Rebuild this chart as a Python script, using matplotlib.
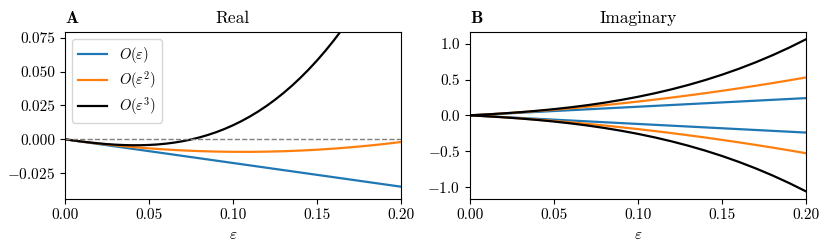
import matplotlib
matplotlib.use("Agg")
import matplotlib.pyplot as plt
import matplotlib.ticker as mticker

plt.rcParams['font.family'] = 'serif'
plt.rcParams['font.serif'] = ['cmr10', 'DejaVu Serif']
plt.rcParams['mathtext.fontset'] = 'cm'
plt.rcParams['axes.formatter.use_mathtext'] = True
plt.rcParams['axes.unicode_minus'] = True

eps = [0.00, 0.01, 0.02, 0.03, 0.04, 0.05, 0.06, 0.07, 0.08, 0.09, 0.10,
       0.11, 0.12, 0.13, 0.14, 0.15, 0.16, 0.17, 0.18, 0.19, 0.20]

eps_fine = [0.000, 0.005, 0.010, 0.015, 0.020, 0.025, 0.030, 0.035, 0.040, 0.045,
            0.050, 0.055, 0.060, 0.065, 0.070, 0.075, 0.080, 0.085, 0.090, 0.095,
            0.100, 0.105, 0.110, 0.115, 0.120, 0.125, 0.130, 0.135, 0.140, 0.145,
            0.150, 0.155, 0.160, 0.165, 0.170, 0.175, 0.180, 0.185, 0.190, 0.195, 0.200]

real_o1 = [0.0, -0.00175, -0.0035, -0.00525, -0.007, -0.00875, -0.0105, -0.01225,
           -0.014, -0.01575, -0.0175, -0.01925, -0.021, -0.02275, -0.0245, -0.02625,
           -0.028, -0.02975, -0.0315, -0.03325, -0.035]
real_o2 = [0.0, -0.00167, -0.00317, -0.00451, -0.00568, -0.00669, -0.00753, -0.00821,
           -0.00872, -0.00907, -0.00925, -0.00927, -0.00912, -0.00881, -0.00833, -0.00769,
           -0.00688, -0.00591, -0.00477, -0.00347, -0.002]
real_o3 = [0.0, -0.00085, -0.00165, -0.00237, -0.00301, -0.00355, -0.00397, -0.00425,
           -0.00439, -0.00437, -0.00418, -0.00381, -0.00323, -0.00244, -0.00142, -0.00015,
           0.00138, 0.00318, 0.00526, 0.00765, 0.01036, 0.01340, 0.01679, 0.02055,
           0.02468, 0.02920, 0.03413, 0.03948, 0.04527, 0.05150, 0.05819, 0.06536,
           0.07302, 0.08119, 0.08988, 0.09911, 0.10890, 0.11925, 0.13018, 0.14171, 0.15385]

imag_o1 = [0.0, 0.0121, 0.0242, 0.0363, 0.0484, 0.0605, 0.0726, 0.0847, 0.0968, 0.1089,
           0.121, 0.1331, 0.1452, 0.1573, 0.1694, 0.1815, 0.1936, 0.2057, 0.2178, 0.2299, 0.242]
imag_o2 = [0.0, 0.0128, 0.0271, 0.0428, 0.0600, 0.0786, 0.0987, 0.1202, 0.1431, 0.1676,
           0.1935, 0.2208, 0.2496, 0.2798, 0.3115, 0.3446, 0.3792, 0.4152, 0.4527, 0.4917, 0.5320]
imag_o3 = [0.0, 0.0129, 0.0276, 0.0446, 0.0643, 0.0870, 0.1132, 0.1432, 0.1774, 0.2164,
           0.2605, 0.3100, 0.3654, 0.4270, 0.4953, 0.5707, 0.6536, 0.7444, 0.8434, 0.9513, 1.0680]

labels = [r'$O(\varepsilon)$', r'$O(\varepsilon^2)$', r'$O(\varepsilon^3)$']
colors = ['#1f77b4', '#ff7f0e', 'black']

fig = plt.figure(figsize=(8.3, 2.52), dpi=100)
ax1 = fig.add_axes([0.0783, 0.2103, 0.4048, 0.664])
ax2 = fig.add_axes([0.5663, 0.2103, 0.4048, 0.664])

ax1.plot(eps, real_o1, color=colors[0], lw=1.6, label=labels[0])
ax1.plot(eps, real_o2, color=colors[1], lw=1.6, label=labels[1])
ax1.plot(eps_fine, real_o3, color=colors[2], lw=1.6, label=labels[2])
ax1.axhline(0, color='gray', ls='--', lw=1.0)
ax1.set_xlim(0, 0.2)
ax1.set_ylim(-0.0441, 0.0795)
ax1.set_yticks([-0.025, 0.0, 0.025, 0.05, 0.075])
ax1.set_xticks([0.0, 0.05, 0.1, 0.15, 0.2])
ax1.set_xlabel(r'$\varepsilon$', fontsize=11)
ax1.set_title('Real', fontsize=12.5)
ax1.set_title(r'$\mathbf{A}$', loc='left', fontsize=12.5)
ax1.legend(loc='upper left', fontsize=10.5, handlelength=2.0, labelspacing=0.3)

for ys, c in zip([imag_o1, imag_o2, imag_o3], colors):
    ax2.plot(eps, ys, color=c, lw=1.6)
    ax2.plot(eps, [-v for v in ys], color=c, lw=1.6)
ax2.set_xlim(0, 0.2)
ax2.set_xticks([0.0, 0.05, 0.1, 0.15, 0.2])
ax2.set_yticks([-1.0, -0.5, 0.0, 0.5, 1.0])
ax2.set_xlabel(r'$\varepsilon$', fontsize=11)
ax2.set_title('Imaginary', fontsize=12.5)
ax2.set_title(r'$\mathbf{B}$', loc='left', fontsize=12.5)

for ax in (ax1, ax2):
    ax.tick_params(labelsize=11)
    ax.xaxis.set_major_formatter(mticker.FormatStrFormatter('%.2f'))

ax1.yaxis.set_major_formatter(mticker.FuncFormatter(
    lambda v, p: ('$-$' if v < -1e-12 else '') + '%.3f' % abs(v)))
ax2.yaxis.set_major_formatter(mticker.FuncFormatter(
    lambda v, p: ('$-$' if v < -1e-12 else '') + '%.1f' % abs(v)))

fig.savefig('out.png', dpi=100)
